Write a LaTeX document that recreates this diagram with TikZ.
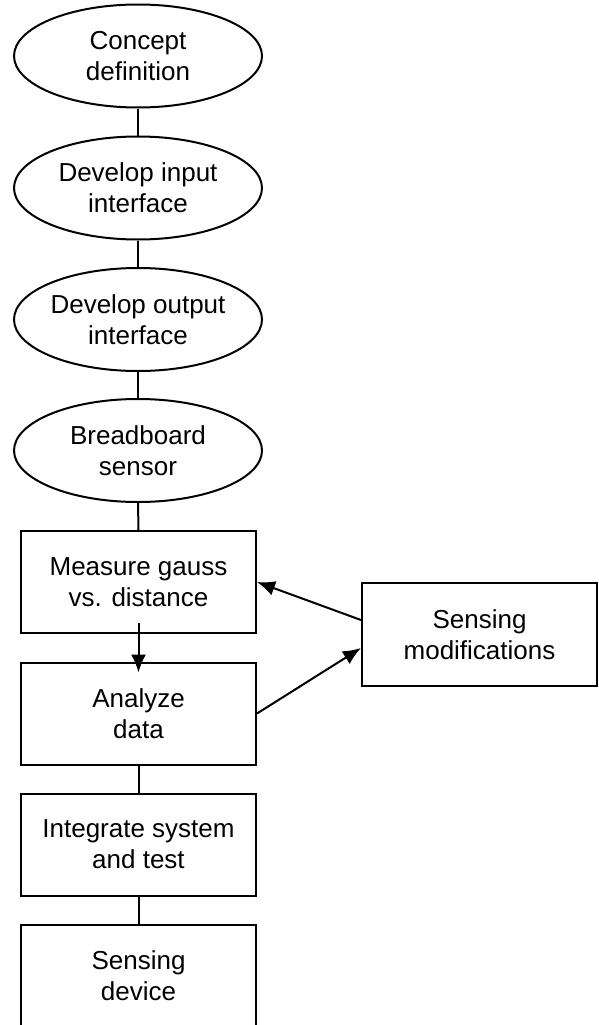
\documentclass[tikz,border=0pt]{standalone}
\usepackage{fontspec}
\setmainfont{Liberation Sans}
\usetikzlibrary{shapes.geometric,arrows.meta,positioning}
\tikzset{
  phase/.style={ellipse, draw=black, line width=2pt, minimum width=248pt, minimum height=103pt, inner sep=0pt, align=center, font=\fontsize{26}{31}\selectfont},
  task/.style={rectangle, draw=black, line width=2pt, minimum width=235pt, minimum height=102pt, inner sep=0pt, align=center, font=\fontsize{26}{31}\selectfont},
  link/.style={line width=2pt, black},
  flow/.style={-{Latex[length=18pt,width=15pt]}, line width=2pt, black}
}
\begin{document}
\begin{tikzpicture}[x=1pt,y=-1pt]
  \useasboundingbox (0,0) rectangle (598,1025);
  \clip (0,0) rectangle (598,1025);
  \node[phase] (concept) at (138,56) {Concept\\definition};
  \node[phase] (input) at (138,188) {Develop input\\interface};
  \node[phase] (output) at (138,319.5) {Develop output\\interface};
  \node[phase] (bread) at (138,450.5) {Breadboard\\sensor};
  \node[task] (measure) at (138.5,582) {Measure gauss\\vs. distance};
  \node[task] (analyze) at (138.5,713.5) {Analyze\\data};
  \node[task] (integrate) at (138.5,844.5) {Integrate system\\and test};
  \node[task] (device) at (138.5,975.5) {Sensing\\device};
  \node[task, minimum height=103pt] (modif) at (479.5,634.5) {Sensing\\modifications};
  \draw[link] (concept.south) -- (input.north);
  \draw[link] (input.south) -- (output.north);
  \draw[link] (output.south) -- (bread.north);
  \draw[link] (bread.south) -- (measure.north);
  \draw[flow] ([yshift=11pt]measure.south) -- ([yshift=-11pt]analyze.north);
  \draw[link] (analyze.south) -- (integrate.north);
  \draw[link] (integrate.south) -- (device.north);
  \draw[flow] ([yshift=14.5pt]modif.west) -- (measure.east);
  \draw[flow] (analyze.east) -- ([yshift=-13.5pt]modif.west);
\end{tikzpicture}
\end{document}
